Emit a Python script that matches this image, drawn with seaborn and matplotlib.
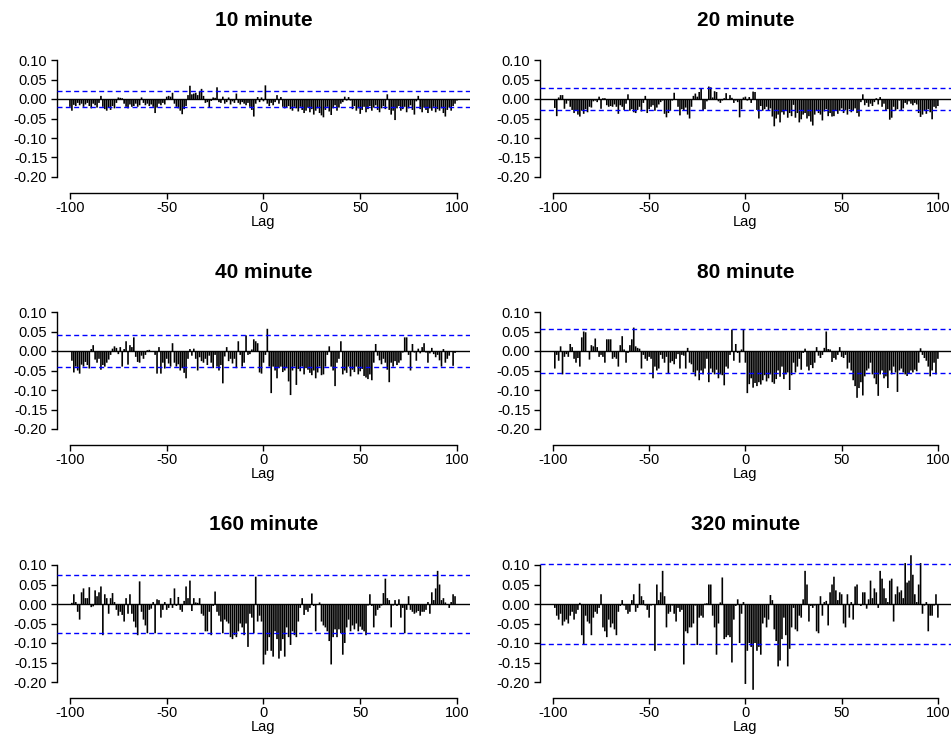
import numpy as np
import pandas as pd
import matplotlib
matplotlib.use("Agg")
import matplotlib.pyplot as plt
import seaborn as sns

# ---------------- data ----------------
lags = list(range(-100, 101))

titles = ["10 minute", "20 minute", "40 minute", "80 minute", "160 minute", "320 minute"]
conf_limits = [0.020, 0.028, 0.040, 0.056, 0.075, 0.103]

ccf_10 = [
    -0.020, -0.030, -0.015, -0.018, -0.010, -0.016, -0.012, -0.020, -0.014, -0.010,
    -0.018, -0.024, -0.012, -0.016, -0.022, -0.010, 0.008, -0.020, -0.026, -0.030,
    -0.022, -0.028, -0.018, -0.024, -0.010, 0.004, 0.003, 0.002, -0.012, -0.020,
    -0.024, -0.014, -0.020, -0.018, -0.012, -0.020, -0.016, 0.004, -0.010, -0.016,
    -0.012, -0.018, -0.014, -0.020, -0.036, -0.022, -0.012, -0.016, -0.010, -0.014,
    0.006, 0.008, 0.006, 0.016, -0.012, -0.020, -0.024, -0.030, -0.039, -0.026,
    -0.018, 0.010, 0.034, 0.012, 0.014, 0.016, 0.010, 0.020, 0.026, 0.008,
    -0.010, -0.008, -0.023, -0.005, 0.004, 0.003, 0.030, -0.008, -0.010, 0.006,
    -0.012, -0.008, 0.004, -0.014, -0.006, -0.010, 0.014, -0.010, -0.014, -0.008,
    -0.012, -0.016, -0.010, -0.020, -0.028, -0.045, -0.012, 0.005, -0.008, 0.004,
    -0.006, 0.035, -0.012, -0.018, -0.010, -0.016, -0.008, 0.010, -0.012, 0.005,
    -0.020, -0.024, -0.022, -0.018, -0.026, -0.030, -0.020, -0.024, -0.032, -0.020,
    -0.028, -0.036, -0.030, -0.022, -0.034, -0.026, -0.040, -0.030, -0.024, -0.036,
    -0.042, -0.047, -0.028, -0.020, -0.032, -0.041, -0.024, -0.016, -0.030, -0.022,
    -0.012, -0.008, 0.006, -0.004, 0.005, -0.004, -0.026, -0.018, -0.030, -0.024,
    -0.038, -0.028, -0.020, -0.034, -0.026, -0.018, -0.030, -0.022, -0.016, -0.028,
    -0.034, -0.024, -0.018, -0.026, 0.012, -0.028, -0.040, -0.030, -0.054, -0.024,
    -0.018, -0.030, -0.026, -0.020, -0.034, -0.024, -0.016, -0.028, -0.040, -0.006,
    0.008, -0.026, -0.034, -0.022, -0.028, -0.036, -0.024, -0.030, -0.020, -0.034,
    -0.026, -0.030, -0.024, -0.036, -0.045, -0.028, -0.022, -0.030, -0.018, -0.012,
    -0.004,
]

ccf_20 = [
    -0.002, -0.023, -0.044, 0.004, 0.010, 0.010, -0.025, -0.012, -0.004, -0.020,
    -0.028, -0.036, -0.030, -0.040, -0.045, -0.030, -0.038, -0.026, -0.034, -0.020,
    -0.022, -0.006, -0.004, -0.008, 0.006, -0.025, 0.002, 0.002, -0.016, -0.020,
    -0.018, -0.020, -0.014, -0.020, -0.038, -0.016, -0.020, -0.028, -0.012, 0.012,
    -0.030, -0.026, -0.034, -0.036, -0.028, -0.020, -0.032, -0.010, 0.008, -0.036,
    -0.026, -0.020, -0.016, -0.030, -0.022, -0.014, -0.008, -0.004, -0.038, -0.047,
    -0.036, -0.030, -0.004, 0.016, -0.002, -0.020, -0.042, -0.026, -0.030, -0.022,
    -0.040, -0.050, -0.020, 0.008, 0.014, 0.006, 0.018, 0.027, -0.030, -0.026,
    -0.006, 0.032, 0.030, 0.004, 0.020, 0.018, -0.006, -0.010, -0.004, 0.002,
    0.015, -0.002, 0.010, 0.003, -0.010, -0.004, -0.008, -0.047, -0.026, 0.004,
    0.006, -0.004, 0.005, -0.010, 0.019, 0.018, -0.028, -0.050, -0.018, -0.030,
    -0.026, -0.020, -0.030, -0.024, -0.045, -0.070, -0.050, -0.040, -0.060, -0.034,
    -0.040, -0.030, -0.048, -0.036, -0.044, -0.015, -0.048, -0.036, -0.060, -0.052,
    -0.040, -0.036, -0.050, -0.044, -0.058, -0.068, -0.040, -0.030, -0.036, -0.040,
    -0.055, -0.032, -0.026, -0.044, -0.036, -0.045, -0.044, -0.030, -0.038, -0.030,
    -0.024, -0.036, -0.028, -0.040, -0.026, -0.034, -0.030, -0.024, -0.036, -0.045,
    -0.008, 0.012, -0.016, -0.010, -0.020, -0.012, -0.018, -0.008, 0.002, -0.014,
    0.005, -0.020, -0.012, -0.030, -0.026, -0.053, -0.048, -0.020, -0.030, -0.026,
    -0.004, -0.030, -0.024, -0.010, -0.014, -0.006, -0.012, -0.016, -0.010, -0.014,
    -0.036, -0.046, -0.040, -0.030, -0.038, -0.026, -0.034, -0.052, -0.020, -0.024,
    -0.018,
]

ccf_40 = [
    0.000, -0.025, -0.055, -0.040, -0.050, -0.058, -0.035, -0.040, -0.028, -0.036,
    -0.045, 0.005, 0.015, -0.022, -0.030, -0.020, -0.048, -0.036, -0.040, -0.030,
    -0.022, -0.010, 0.006, 0.012, 0.008, -0.008, 0.010, -0.040, 0.005, 0.025,
    -0.035, 0.015, 0.010, 0.035, -0.015, -0.028, -0.030, -0.012, -0.020, -0.010,
    0.002, 0.003, -0.002, 0.000, -0.010, -0.058, 0.010, -0.058, -0.030, -0.045,
    -0.020, -0.032, -0.040, 0.020, -0.030, -0.040, -0.034, -0.050, -0.044, -0.056,
    -0.070, -0.020, 0.005, -0.012, 0.006, -0.020, -0.050, -0.016, -0.026, -0.030,
    -0.020, -0.036, -0.012, -0.030, -0.044, -0.010, -0.040, -0.050, -0.036, -0.083,
    -0.014, 0.010, -0.026, -0.020, -0.032, -0.020, -0.044, 0.025, -0.010, -0.040,
    -0.030, 0.040, -0.010, -0.008, 0.004, 0.030, 0.025, 0.020, -0.055, -0.058,
    -0.030, -0.010, 0.057, -0.040, -0.108, -0.040, -0.050, -0.070, -0.044, -0.040,
    -0.054, -0.050, -0.044, -0.078, -0.113, -0.050, -0.040, -0.087, -0.046, -0.052,
    -0.040, -0.060, -0.044, -0.048, -0.056, -0.062, -0.050, -0.070, -0.055, -0.040,
    -0.062, -0.060, -0.040, -0.010, 0.012, -0.040, -0.050, -0.090, -0.030, -0.020,
    0.025, -0.060, -0.050, -0.056, -0.040, -0.065, -0.048, -0.054, -0.040, -0.060,
    -0.052, -0.046, -0.064, -0.068, -0.072, -0.060, -0.075, -0.030, 0.018, -0.012,
    -0.024, -0.034, -0.020, -0.030, -0.048, -0.080, -0.030, -0.040, -0.026, -0.036,
    -0.030, -0.024, -0.004, 0.035, 0.035, -0.010, -0.050, 0.018, -0.004, -0.025,
    0.006, -0.006, 0.010, 0.020, -0.004, -0.030, -0.006, 0.008, -0.008, -0.016,
    -0.010, -0.024, -0.040, 0.005, -0.030, -0.020, -0.012, -0.002, -0.038, -0.005,
    -0.002,
]

ccf_80 = [
    0.000, -0.045, -0.010, -0.025, 0.012, -0.060, -0.015, -0.008, -0.015, 0.018,
    0.010, -0.020, -0.030, -0.018, -0.040, 0.035, 0.050, 0.048, -0.002, -0.022,
    0.015, 0.012, 0.032, 0.010, -0.015, -0.010, -0.015, -0.030, 0.030, 0.030,
    0.030, -0.020, -0.016, -0.020, -0.040, 0.015, 0.038, 0.004, -0.030, -0.005,
    0.015, 0.030, 0.060, 0.012, 0.008, 0.006, -0.045, -0.010, -0.020, -0.025,
    -0.015, -0.020, -0.070, -0.040, -0.050, -0.045, -0.010, -0.020, -0.030, -0.015,
    -0.058, -0.030, -0.026, -0.034, -0.020, -0.008, -0.045, -0.010, -0.012, -0.045,
    0.008, -0.030, -0.034, -0.055, -0.065, -0.050, -0.075, -0.050, -0.060, -0.045,
    -0.020, -0.080, -0.045, -0.055, -0.060, -0.048, -0.070, -0.060, -0.062, -0.088,
    -0.040, -0.045, -0.010, 0.055, -0.025, 0.018, -0.005, -0.030, 0.004, 0.055,
    -0.030, -0.108, -0.085, -0.070, -0.094, -0.082, -0.090, -0.080, -0.086, -0.075,
    -0.062, -0.078, -0.070, -0.060, -0.080, -0.084, -0.072, -0.050, -0.066, -0.040,
    -0.072, -0.060, -0.055, -0.100, -0.062, -0.030, -0.055, -0.040, -0.020, -0.048,
    -0.005, 0.006, -0.040, -0.050, -0.036, -0.044, -0.030, 0.010, -0.012, -0.018,
    -0.010, 0.008, 0.050, 0.005, 0.004, -0.028, -0.018, -0.022, -0.010, 0.010,
    -0.015, -0.018, -0.010, -0.045, -0.030, -0.050, -0.075, -0.090, -0.120, -0.095,
    -0.080, -0.114, -0.065, -0.050, -0.045, -0.030, -0.060, -0.070, -0.085, -0.115,
    -0.060, -0.050, -0.070, -0.065, -0.095, -0.050, -0.060, -0.040, -0.055, -0.105,
    -0.050, -0.045, -0.055, -0.060, -0.064, -0.058, -0.050, -0.055, -0.048, -0.052,
    -0.030, 0.007, -0.010, -0.018, -0.025, -0.040, -0.065, -0.050, -0.030, -0.060,
    -0.020,
]

ccf_160 = [
    0.000, 0.003, 0.025, 0.005, -0.020, -0.040, 0.030, 0.040, 0.015, 0.015,
    0.043, -0.008, -0.006, 0.035, 0.020, 0.030, 0.045, -0.080, 0.025, 0.015,
    -0.025, 0.015, 0.028, 0.005, -0.015, -0.030, -0.020, -0.028, -0.045, 0.015,
    -0.025, 0.025, -0.025, -0.045, -0.060, -0.080, 0.058, -0.020, -0.040, -0.055,
    -0.075, -0.015, -0.012, 0.005, -0.075, 0.012, 0.010, -0.035, -0.015, 0.005,
    -0.015, -0.010, 0.015, -0.010, 0.040, -0.005, 0.018, -0.015, -0.020, 0.008,
    0.045, 0.015, 0.060, -0.018, 0.015, 0.004, 0.003, 0.015, -0.025, -0.030,
    -0.070, -0.070, -0.020, -0.080, -0.005, 0.032, -0.020, -0.030, -0.045, -0.075,
    -0.040, -0.045, -0.050, -0.085, -0.090, -0.080, -0.085, -0.070, -0.050, -0.060,
    -0.080, -0.050, -0.110, -0.025, -0.035, -0.075, 0.070, -0.045, -0.030, -0.045,
    -0.155, -0.130, -0.120, -0.085, -0.120, -0.135, -0.070, -0.090, -0.140, -0.120,
    -0.090, -0.135, -0.060, -0.085, -0.105, -0.070, -0.080, -0.085, -0.045, -0.010,
    0.015, -0.028, -0.015, -0.020, -0.010, 0.027, -0.005, -0.070, -0.002, 0.004,
    -0.045, -0.055, -0.060, -0.070, -0.095, -0.155, -0.085, -0.065, -0.085, -0.065,
    -0.075, -0.130, -0.100, -0.060, -0.040, -0.070, -0.055, -0.065, -0.050, -0.070,
    -0.058, -0.066, -0.070, -0.080, -0.004, 0.025, -0.005, -0.060, -0.030, -0.015,
    -0.010, -0.004, 0.028, 0.065, 0.015, 0.010, -0.060, -0.004, 0.010, -0.005,
    0.012, -0.035, -0.010, -0.075, -0.015, 0.020, -0.015, -0.020, -0.025, -0.022,
    -0.018, -0.030, -0.020, -0.020, -0.015, 0.005, -0.025, 0.030, 0.010, 0.040,
    0.085, 0.050, 0.010, 0.015, 0.004, -0.002, -0.010, 0.005, 0.025, 0.020,
    0.000,
]

ccf_320 = [
    0.000, -0.010, -0.030, -0.040, -0.025, -0.055, -0.045, -0.040, -0.050, -0.030,
    -0.020, -0.040, -0.025, -0.015, 0.003, -0.080, -0.105, -0.030, -0.045, -0.050,
    -0.080, -0.035, -0.020, -0.025, -0.010, 0.025, -0.060, -0.070, -0.085, -0.040,
    -0.060, -0.050, -0.065, -0.080, -0.020, -0.005, 0.010, -0.004, -0.015, -0.025,
    -0.020, 0.010, 0.025, -0.020, -0.010, 0.052, 0.020, 0.010, -0.004, -0.015,
    -0.035, -0.004, -0.002, -0.120, 0.050, 0.010, 0.030, 0.085, 0.020, -0.060,
    -0.025, -0.020, -0.004, -0.025, -0.045, -0.010, -0.020, -0.015, -0.155, -0.070,
    -0.075, -0.060, -0.060, -0.050, -0.004, -0.105, -0.035, -0.030, -0.035, 0.001,
    0.002, 0.050, 0.050, -0.030, -0.060, -0.130, -0.050, 0.004, 0.068, -0.090,
    -0.085, -0.080, -0.085, -0.150, -0.040, -0.005, 0.012, -0.100, -0.025, 0.005,
    -0.205, -0.120, -0.100, -0.110, -0.220, -0.100, -0.120, -0.110, -0.130, -0.050,
    -0.035, -0.060, -0.040, 0.023, 0.010, -0.065, -0.095, -0.160, -0.145, -0.090,
    -0.035, -0.080, -0.160, -0.115, -0.060, -0.010, -0.065, -0.070, -0.030, -0.035,
    0.012, 0.085, 0.050, -0.045, -0.005, -0.010, -0.004, -0.070, -0.075, 0.020,
    -0.030, 0.005, 0.008, -0.055, 0.030, 0.050, 0.070, 0.035, 0.010, 0.030,
    0.025, -0.050, -0.060, 0.025, -0.035, 0.005, -0.040, 0.045, 0.050, -0.002,
    -0.005, 0.030, 0.030, -0.012, 0.012, 0.060, 0.015, 0.040, 0.030, -0.010,
    0.085, 0.065, 0.040, 0.015, 0.005, 0.060, 0.065, -0.045, 0.025, 0.045,
    0.030, 0.035, 0.015, 0.105, 0.055, 0.060, 0.125, 0.075, 0.025, 0.005,
    0.050, 0.105, -0.025, -0.004, 0.005, -0.070, -0.030, -0.030, -0.004, 0.025,
    -0.035,
]

series = [ccf_10, ccf_20, ccf_40, ccf_80, ccf_160, ccf_320]
y_ticks = [-0.20, -0.15, -0.10, -0.05, 0.00, 0.05, 0.10]
x_ticks = [-100, -50, 0, 50, 100]

# ---------------- style ----------------
sns.set_style("white")
plt.rcParams["font.family"] = ["Liberation Sans", "DejaVu Sans"]
plt.rcParams["axes.unicode_minus"] = False
plt.rcParams["text.color"] = "black"
plt.rcParams["axes.labelcolor"] = "black"
plt.rcParams["xtick.color"] = "black"
plt.rcParams["ytick.color"] = "black"

W, H = 953, 736
fig = plt.figure(figsize=(W / 100, H / 100), dpi=100)

col_spine_px = [57, 540]        # x pixel of y-axis line
col_px_per_lag = [1.935, 1.925]
row_zero_px = [99, 351, 604]    # y pixel of value 0
px_per_unit = 390.0
x_lo, x_hi = -106.7, 106.7
y_lo, y_hi = -0.241, 0.13

for i, (title, vals, ci) in enumerate(zip(titles, series, conf_limits)):
    r, c = divmod(i, 2)
    left = col_spine_px[c]
    width = (x_hi - x_lo) * col_px_per_lag[c]
    top = row_zero_px[r] - y_hi * px_per_unit
    bottom = row_zero_px[r] - y_lo * px_per_unit
    ax = fig.add_axes([left / W, 1 - bottom / H, width / W, (bottom - top) / H])

    df = pd.DataFrame({"lag": lags, "ccf": vals})
    sns.barplot(data=df, x="lag", y="ccf", native_scale=True, color="black",
                saturation=1, width=0.85, errorbar=None, linewidth=0,
                snap=False, ax=ax)

    ax.axhline(0, color="black", lw=1.0, zorder=3)
    for s in (ci, -ci):
        ax.axhline(s, color="#0000FF", lw=1.0, ls=(0, (3.6, 2.4)), zorder=3)

    ax.set_xlim(x_lo, x_hi)
    ax.set_ylim(y_lo, y_hi)
    ax.set_xticks(x_ticks)
    ax.set_xticklabels([str(t) for t in x_ticks])
    ax.set_yticks(y_ticks)
    ax.set_yticklabels(["%.2f" % t for t in y_ticks])
    for sp in ("top", "right"):
        ax.spines[sp].set_visible(False)
    ax.spines["left"].set_bounds(-0.20, 0.10)
    ax.spines["bottom"].set_bounds(-100, 100)
    for sp in ("left", "bottom"):
        ax.spines[sp].set_color("black")
        ax.spines[sp].set_linewidth(1.0)
    ax.tick_params(axis="both", direction="out", length=4, width=1.0,
                   colors="black", labelsize=10.5, left=True, bottom=True)
    ax.tick_params(axis="y", pad=3)
    ax.tick_params(axis="x", pad=2)
    ax.set_xlabel("")
    ax.set_ylabel("")
    ax.grid(False)

    cx = (col_spine_px[c] + (0 - x_lo) * col_px_per_lag[c]) / W
    fig.text(cx, 1 - (row_zero_px[r] - 79) / H, title, ha="center", va="center",
             fontsize=15, fontweight="bold", color="black")
    fig.text(cx, 1 - (row_zero_px[r] + 123) / H, "Lag", ha="center", va="center",
             fontsize=10.5, color="black")

fig.savefig("out.png", dpi=100, facecolor="white")
